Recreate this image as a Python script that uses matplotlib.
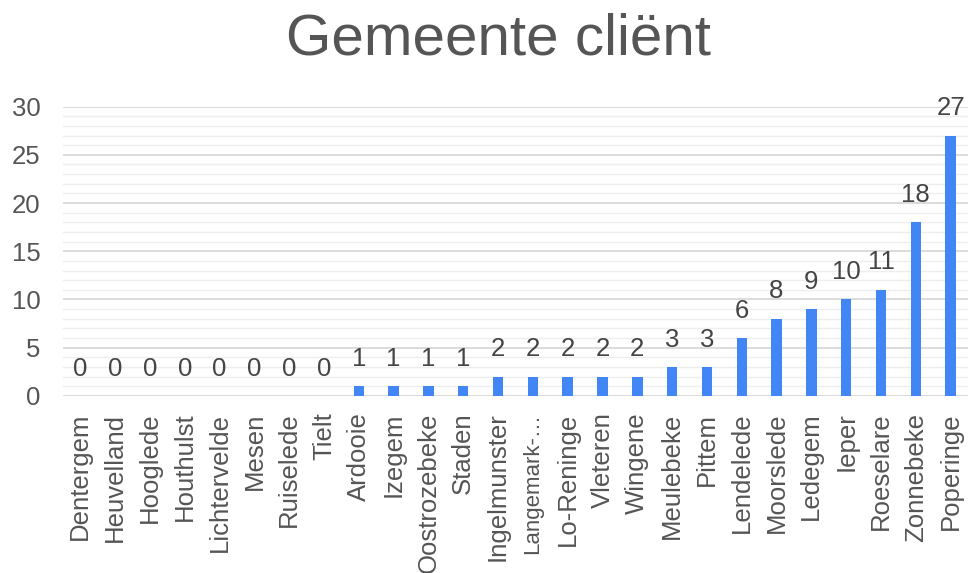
import numpy as np
import matplotlib.pyplot as plt

# gemeenten en aantal clienten
gemeenten = ['Dentergem', 'Heuvelland', 'Hooglede', 'Houthulst', 'Lichtervelde',
             'Mesen', 'Ruiselede', 'Tielt', 'Ardooie', 'Izegem', 'Oostrozebeke',
             'Staden', 'Ingelmunster', 'Langemark-…', 'Lo-Reninge', 'Vleteren',
             'Wingene', 'Meulebeke', 'Pittem', 'Lendelede', 'Moorslede', 'Ledegem',
             'Ieper', 'Roeselare', 'Zonnebeke', 'Poperinge']
aantallen = [0, 0, 0, 0, 0, 0, 0, 0, 1, 1, 1, 1, 2, 2, 2, 2, 2, 3, 3, 6, 8, 9, 10, 11, 18, 27]

plt.rcParams['font.family'] = ['Liberation Sans', 'DejaVu Sans']

fig = plt.figure(figsize=(9.68, 5.73), dpi=100)
ax = fig.add_axes([0.065, 0.309, 0.935, 0.505])

x = np.arange(len(gemeenten))
ax.bar(x, aantallen, width=0.3, color='#4285f4', zorder=3)
for xi, v in zip(x, aantallen):
    ax.text(xi, v + 1.6, str(v), ha='center', va='bottom', fontsize=18.5, color='#444444')

ax.set_xlim(-0.5, len(gemeenten) - 0.5)
ax.set_ylim(0, 30)
ax.set_yticks(range(0, 31, 5))
ax.set_yticks(range(0, 31), minor=True)
ax.grid(axis='y', which='major', color='#d6d6d6', linewidth=1.2, zorder=0)
ax.grid(axis='y', which='minor', color='#eeeeee', linewidth=1.0, zorder=0)
for s in ax.spines.values():
    s.set_visible(False)
ax.tick_params(axis='both', which='both', length=0)
ax.tick_params(axis='y', labelsize=18.5, labelcolor='#555555', pad=16)
ax.set_xticks(x)
ax.set_xticklabels(gemeenten, rotation=90, fontsize=18.5, color='#555555')
ax.tick_params(axis='x', pad=12)
# afgekorte naam past anders niet
for lbl in ax.get_xticklabels():
    if lbl.get_text().endswith('…'):
        lbl.set_fontsize(16)

fig.text(0.515, 0.978, 'Gemeente cliënt', fontsize=42, color='#555555',
         ha='center', va='top')

fig.savefig('out.png', dpi=100)
